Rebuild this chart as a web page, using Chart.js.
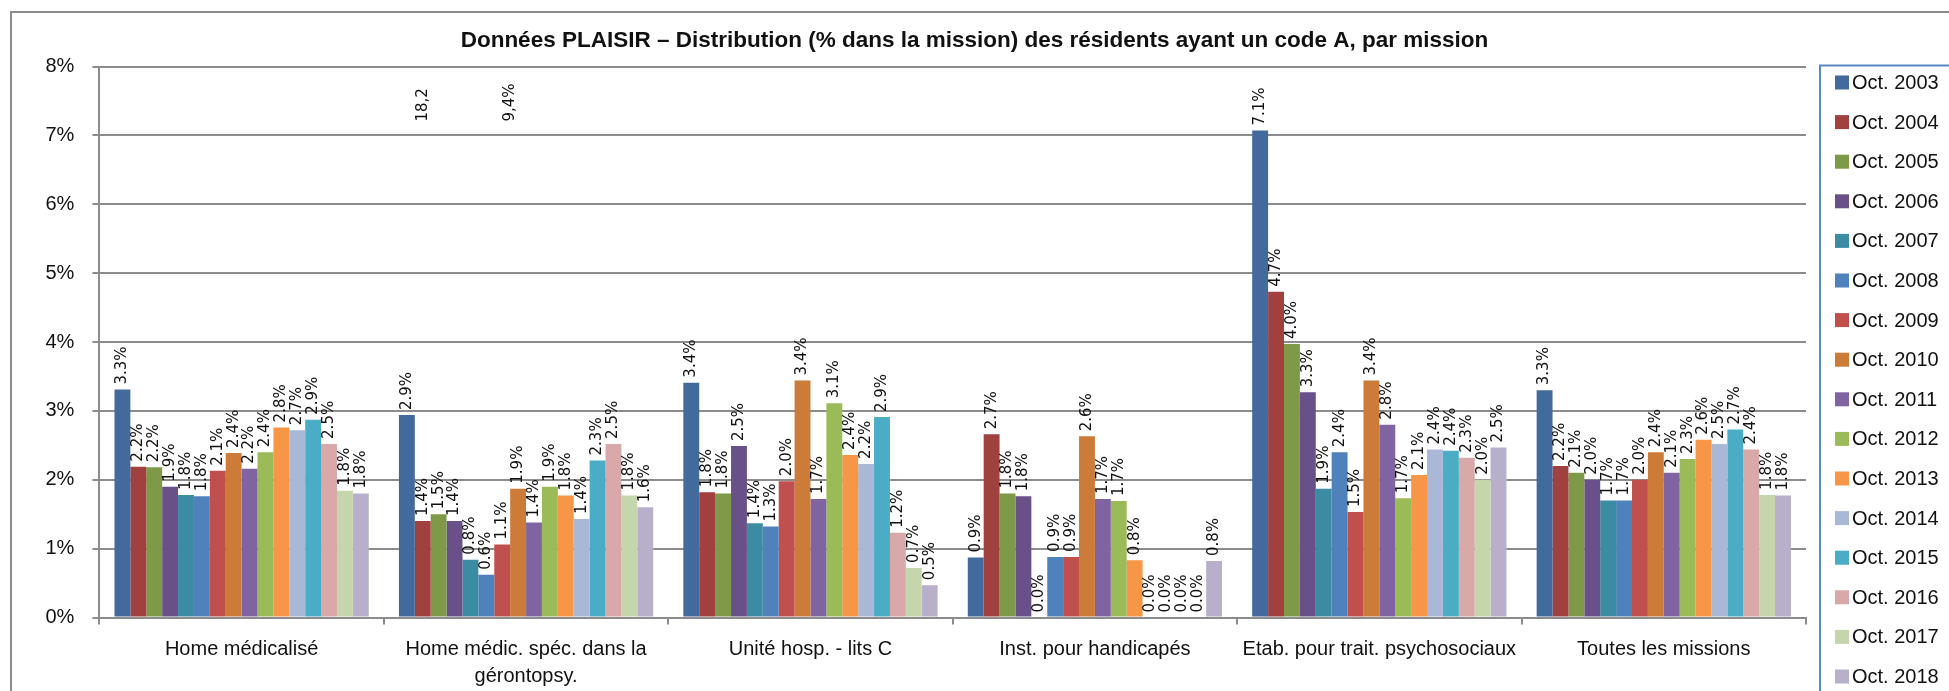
<!DOCTYPE html>
<html>
<head>
<meta charset="utf-8">
<script src="https://cdn.jsdelivr.net/npm/chart.js@4.4.0/dist/chart.umd.min.js"></script>
<style>
  html, body { margin: 0; padding: 0; background: #fff; }
  #wrap { width: 1949px; height: 691px; }
</style>
</head>
<body>
<div id="wrap"><canvas id="plaisirChart" width="1949" height="691"></canvas></div>
<script>
const chartTitle = 'Données PLAISIR – Distribution (% dans la mission) des résidents ayant un code A, par mission';
const categories = [
  'Home médicalisé',
  ['Home médic. spéc. dans la', 'gérontopsy.'],
  'Unité hosp. - lits C',
  'Inst. pour handicapés',
  'Etab. pour trait. psychosociaux',
  'Toutes les missions'
];
const yTicks = [0, 1, 2, 3, 4, 5, 6, 7, 8];

const years = ['Oct. 2003', 'Oct. 2004', 'Oct. 2005', 'Oct. 2006', 'Oct. 2007', 'Oct. 2008',
  'Oct. 2009', 'Oct. 2010', 'Oct. 2011', 'Oct. 2012', 'Oct. 2013', 'Oct. 2014',
  'Oct. 2015', 'Oct. 2016', 'Oct. 2017', 'Oct. 2018'];

// one array per year, one value per mission (%)
const oct2003 = [3.31, 2.94, 3.41, 0.87, 7.07, 3.30];
const oct2004 = [2.19, 1.40, 1.82, 2.66, 4.73, 2.20];
const oct2005 = [2.18, 1.50, 1.80, 1.80, 3.97, 2.10];
const oct2006 = [1.90, 1.40, 2.49, 1.76, 3.27, 2.00];
const oct2007 = [1.78, 0.84, 1.37, 0.00, 1.87, 1.70];
const oct2008 = [1.76, 0.62, 1.32, 0.88, 2.40, 1.70];
const oct2009 = [2.13, 1.06, 1.98, 0.88, 1.53, 2.00];
const oct2010 = [2.39, 1.87, 3.44, 2.63, 3.44, 2.40];
const oct2011 = [2.16, 1.38, 1.72, 1.72, 2.80, 2.10];
const oct2012 = [2.40, 1.90, 3.11, 1.69, 1.73, 2.30];
const oct2013 = [2.76, 1.77, 2.36, 0.83, 2.07, 2.58];
const oct2014 = [2.72, 1.43, 2.23, 0.00, 2.44, 2.52];
const oct2015 = [2.87, 2.28, 2.91, 0.00, 2.42, 2.73];
const oct2016 = [2.52, 2.52, 1.23, 0.00, 2.32, 2.44];
const oct2017 = [1.84, 1.77, 0.72, 0.00, 2.00, 1.78];
const oct2018 = [1.80, 1.60, 0.47, 0.82, 2.47, 1.77];

const seriesValues = [oct2003, oct2004, oct2005, oct2006, oct2007, oct2008, oct2009, oct2010,
  oct2011, oct2012, oct2013, oct2014, oct2015, oct2016, oct2017, oct2018];

const colors = ['#426A9C', '#A0413F', '#7E9A48', '#6A5088', '#3B8CA3', '#4F81BD', '#C0504D', '#CC7B38',
  '#8064A2', '#9BBB59', '#F79646', '#A9B8D6', '#4BACC6', '#D9A8A8', '#C6D6AC', '#B8AFCA'];

// stray text boxes in the original (mission 2), value height + series position
const noteTexts = ['18,2', '9,4%'];
const noteSeries = [1, 6.5];
const noteValue = 7.2;

const outerFrame = {
  id: 'outerFrame',
  beforeDraw(chart) {
    const ctx = chart.ctx;
    ctx.save();
    ctx.fillStyle = '#fff';
    ctx.fillRect(0, 0, chart.width, chart.height);
    ctx.strokeStyle = '#8c8c8c';
    ctx.lineWidth = 2;
    ctx.strokeRect(11, 12, chart.width + 20, chart.height + 20);
    // title, centred on the whole frame
    ctx.font = 'bold 22.5px "Liberation Sans"';
    ctx.fillStyle = '#111';
    ctx.textAlign = 'center';
    ctx.textBaseline = 'middle';
    ctx.fillText(chartTitle, chart.width / 2, 41);
    ctx.restore();
  }
};

const barLabels = {
  id: 'barLabels',
  afterDatasetsDraw(chart) {
    const ctx = chart.ctx;
    ctx.save();
    ctx.font = '15px "DejaVu Sans"';
    ctx.fillStyle = '#111';
    ctx.textAlign = 'left';
    ctx.textBaseline = 'middle';
    chart.data.datasets.forEach((ds, i) => {
      chart.getDatasetMeta(i).data.forEach((bar, j) => {
        ctx.save();
        ctx.translate(bar.x, bar.y - 5);
        ctx.rotate(-Math.PI / 2);
        ctx.fillText(ds.data[j].toFixed(1) + '%', 0, 0);
        ctx.restore();
      });
    });
    // the two stray notes
    const y = chart.scales.y.getPixelForValue(noteValue);
    noteTexts.forEach((t, k) => {
      const s = noteSeries[k];
      const a = chart.getDatasetMeta(Math.floor(s)).data[1];
      const b = chart.getDatasetMeta(Math.ceil(s)).data[1];
      const x = a.x + (b.x - a.x) * (s - Math.floor(s));
      ctx.save();
      ctx.translate(x, y);
      ctx.rotate(-Math.PI / 2);
      ctx.fillText(t, 0, 0);
      ctx.restore();
    });
    ctx.restore();
  }
};

const sideLegend = {
  id: 'sideLegend',
  afterDraw(chart) {
    const ctx = chart.ctx;
    const left = chart.chartArea.right + 14;
    const top = chart.chartArea.top - 1;
    ctx.save();
    ctx.strokeStyle = '#5B87C5';
    ctx.lineWidth = 2;
    ctx.strokeRect(left, top, chart.width, chart.height);
    ctx.font = '20px "Liberation Sans"';
    ctx.textBaseline = 'middle';
    ctx.textAlign = 'left';
    chart.data.datasets.forEach((ds, i) => {
      const cy = top + 17 + i * 39.6;
      ctx.fillStyle = ds.backgroundColor;
      ctx.fillRect(left + 15, cy - 7, 14, 14);
      ctx.fillStyle = '#111';
      ctx.fillText(ds.label, left + 32, cy + 1);
    });
    ctx.restore();
  }
};

new Chart(document.getElementById('plaisirChart'), {
  type: 'bar',
  data: {
    labels: categories,
    datasets: years.map((y, i) => ({
      label: y,
      data: seriesValues[i],
      backgroundColor: colors[i],
      borderWidth: 0,
      categoryPercentage: 0.894,
      barPercentage: 1.0
    }))
  },
  options: {
    responsive: false,
    animation: false,
    layout: { padding: { left: 27.5, right: 143, top: 66.5, bottom: -9.5 } },
    plugins: {
      legend: { display: false },
      tooltip: { enabled: false },
      title: { display: false }
    },
    scales: {
      x: {
        grid: { display: true, drawOnChartArea: false, drawTicks: true, tickLength: 7, color: '#8c8c8c', lineWidth: 2, offset: true },
        border: { color: '#8c8c8c', width: 2 },
        ticks: {
          color: '#111',
          font: { family: '"Liberation Sans"', size: 20, lineHeight: 1.35 },
          padding: 11,
          maxRotation: 0,
          autoSkip: false
        }
      },
      y: {
        min: 0,
        max: 8,
        afterBuildTicks(scale) { scale.ticks = yTicks.map(v => ({ value: v })); },
        grid: { color: '#8c8c8c', lineWidth: 2, tickLength: 7 },
        border: { color: '#8c8c8c', width: 2 },
        ticks: {
          color: '#111',
          font: { family: '"Liberation Sans"', size: 20 },
          padding: 18,
          callback: v => v + '%'
        }
      }
    }
  },
  plugins: [outerFrame, barLabels, sideLegend]
});
</script>
</body>
</html>
